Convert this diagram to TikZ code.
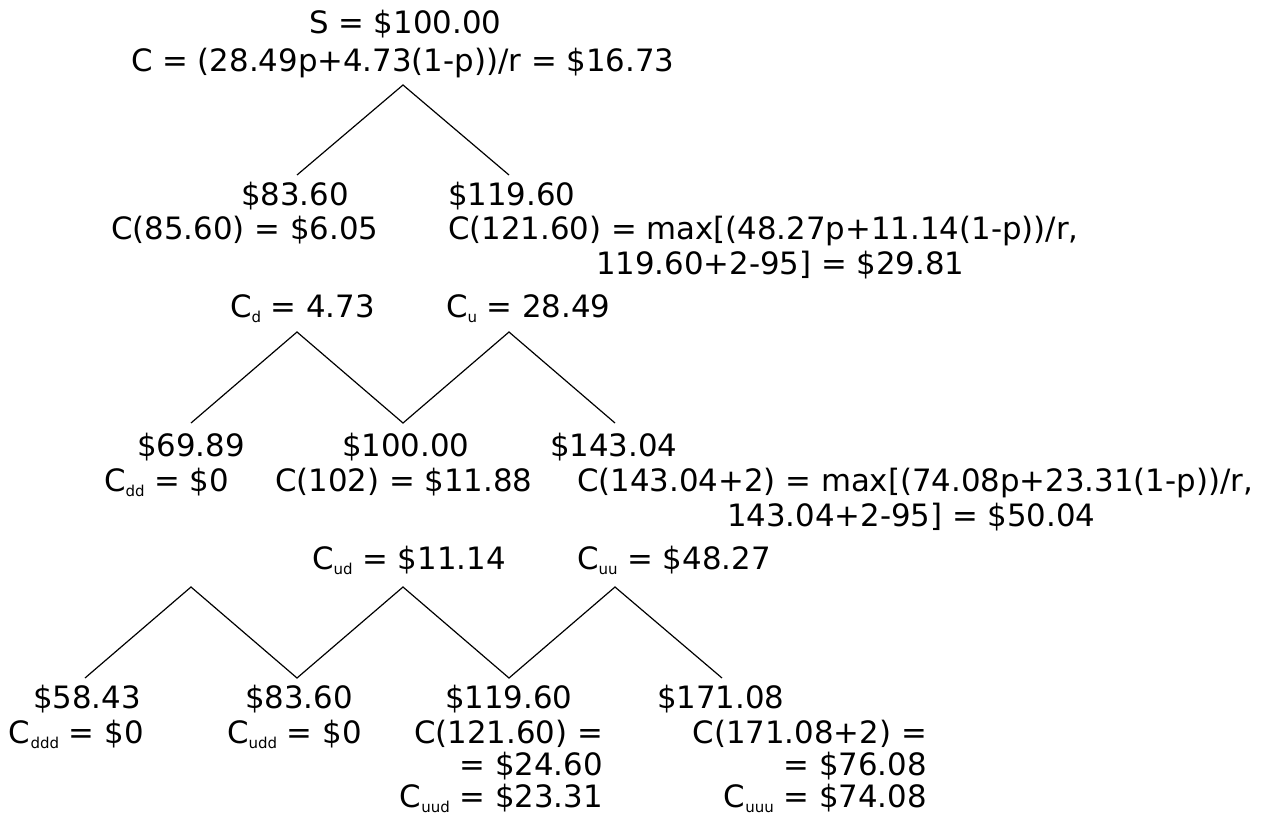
\documentclass[tikz,border=0pt]{standalone}
\usepackage{fontspec}
\setmainfont{DejaVu Sans}
% small lowered index letters, as in C_ud
\newcommand{\lowidx}[1]{\raisebox{-0.18em}{\fontsize{15}{15}\selectfont #1}}
\begin{document}
\begin{tikzpicture}[x=1pt,y=-1pt,
  lbl/.style={inner sep=0pt, outer sep=0pt, font=\fontsize{30.8}{36}\selectfont},
  lw/.style={lbl, anchor=base west},
  le/.style={lbl, anchor=base east},
  edge/.style={line width=1.2pt, line join=miter}]
\useasboundingbox (0,0) rectangle (1267,814);

% ---- lattice points ----
\coordinate (r0) at (403,85);
\coordinate (d1) at (297,175);
\coordinate (u1) at (509,175);
\coordinate (a2) at (191,423);
\coordinate (pd2) at (297,332);
\coordinate (m2) at (403,423);
\coordinate (pu2) at (509,332);
\coordinate (b2) at (615,423);
\coordinate (a3) at (85,678);
\coordinate (p3a) at (191,587);
\coordinate (v3a) at (297,678);
\coordinate (p3b) at (403,587);
\coordinate (v3b) at (509,678);
\coordinate (p3c) at (615,587);
\coordinate (b3) at (722,678);

\draw[edge] (d1) -- (r0) -- (u1);
\draw[edge] (a2) -- (pd2) -- (m2) -- (pu2) -- (b2);
\draw[edge] (a3) -- (p3a) -- (v3a) -- (p3b) -- (v3b) -- (p3c) -- (b3);

% ---- root ----
\node[lw] (s0) at (309,33) {S = \$100.00};
\node[lw] (c0) at (131,71) {C = (28.49p+4.73(1-p))/r = \$16.73};

% ---- first step ----
\node[lw] (sd) at (241,205) {\$83.60};
\node[lw] (cd) at (111,239) {C(85.60) = \$6.05};
\node[lw] (su) at (448,205) {\$119.60};
\node[lw] (cu) at (448,239) {C(121.60) = max[(48.27p+11.14(1-p))/r,};
\node[lw] (cu2) at (596,274) {119.60+2-95] = \$29.81};
\node[lw] (vd) at (230,317) {C\lowidx{d} = 4.73};
\node[lw] (vu) at (446,317) {C\lowidx{u} = 28.49};

% ---- second step ----
\node[lw] (sdd) at (137,456) {\$69.89};
\node[lw] (cdd) at (104,491) {C\lowidx{dd} = \$0};
\node[lw] (sud) at (342,456) {\$100.00};
\node[lw] (cud) at (275,491) {C(102) = \$11.88};
\node[lw] (suu) at (550,456) {\$143.04};
\node[lw] (cuu) at (577,491) {C(143.04+2) = max[(74.08p+23.31(1-p))/r,};
\node[lw] (cuu2) at (727,526) {143.04+2-95] = \$50.04};
\node[lw] (vud) at (312,569) {C\lowidx{ud} = \$11.14};
\node[lw] (vuu) at (577,569) {C\lowidx{uu} = \$48.27};

% ---- third step ----
\node[lw] (sddd) at (33,708) {\$58.43};
\node[lw] (cddd) at (9,743) {C\lowidx{ddd} = \$0};
\node[lw] (sudd) at (245,708) {\$83.60};
\node[lw] (cudd) at (227,743) {C\lowidx{udd} = \$0};
\node[lw] (suud) at (445,708) {\$119.60};
\node[le] (cuud) at (603,743) {C(121.60) =};
\node[le] (cuud2) at (603,775) {= \$24.60};
\node[le] (vuud) at (603,807) {C\lowidx{uud} = \$23.31};
\node[lw] (suuu) at (657,708) {\$171.08};
\node[le] (cuuu) at (927,743) {C(171.08+2) =};
\node[le] (cuuu2) at (927,775) {= \$76.08};
\node[le] (vuuu) at (927,807) {C\lowidx{uuu} = \$74.08};
\end{tikzpicture}
\end{document}
